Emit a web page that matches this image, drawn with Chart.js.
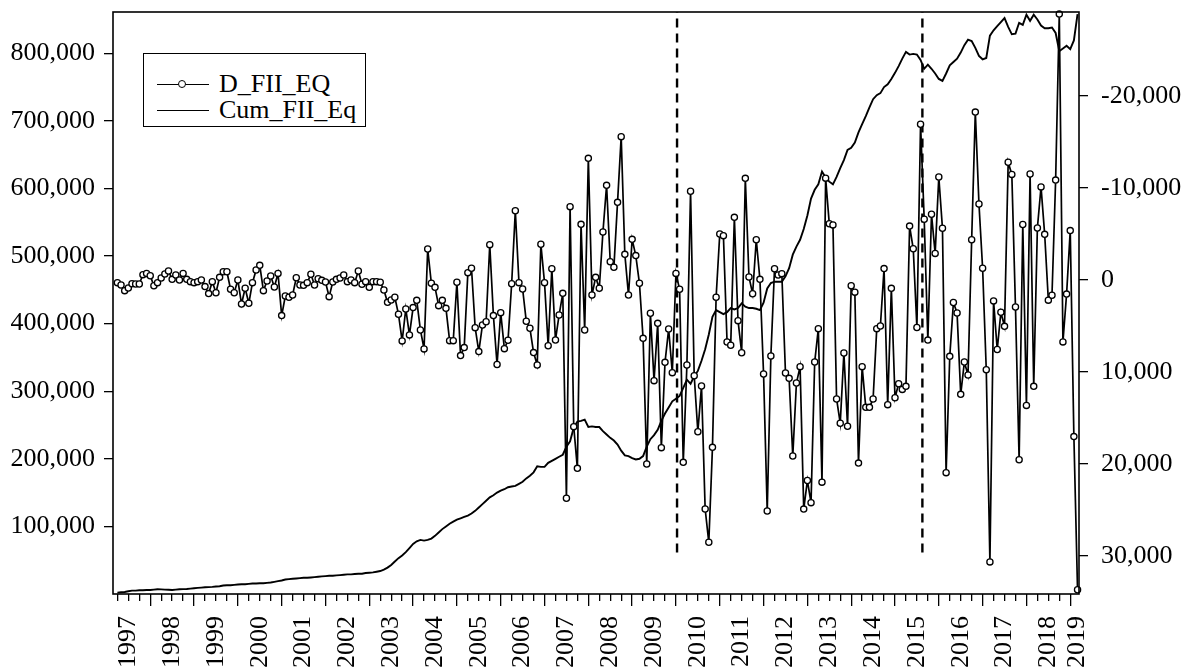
<!DOCTYPE html>
<html>
<head>
<meta charset="utf-8">
<script src="https://cdn.jsdelivr.net/npm/chart.js@4.4.1/dist/chart.umd.min.js"></script>
<style>
  html, body { margin: 0; padding: 0; background: #fff; }
  #wrap { position: relative; width: 1183px; height: 667px; overflow: hidden; }
  #legend {
    position: absolute; left: 143px; top: 53px; width: 221px; height: 72px;
    border: 1.4px solid #000; background: #fff; color: #000;
    font-family: 'Liberation Serif', 'Times New Roman', serif; font-size: 26px;
  }
  .item { position: absolute; left: 0; width: 100%; height: 26px; line-height: 26px; white-space: nowrap; }
  .swatch { position: absolute; left: 13px; top: 13px; width: 52px; border-top: 1.8px solid #000; }
  .dot { position: absolute; left: 21px; top: -5px; width: 6px; height: 6px; border: 1.2px solid #000; border-radius: 50%; background: #fff; }
  .txt { position: absolute; left: 75px; top: 0; }
</style>
</head>
<body>
<div id="wrap">
  <canvas id="c" width="1183" height="667"></canvas>
  <div id="legend"></div>
</div>
<script>
// Monthly series, first observation = April 1997 (index 0), last = March 2019 (index 263)
const startYear = 1997;
const startMonth = 4;

const yearLabels = ['1997','1998','1999','2000','2001','2002','2003','2004','2005','2006','2007','2008',
                    '2009','2010','2011','2012','2013','2014','2015','2016','2017','2018','2019'];

// Monthly change, plotted on the right (inverted) axis
const dFiiEq = [
  290, 540, 1160, 870, 400, 430, 430, -580, -720, -470, 620, 290, -220, -650, -980, -70, -540, 0, -720, -70,
  180, 290, 180, 0, 720, 1480, 180, 1380, -290, -900, -900, 1010, 1380, 0, 2610, 900, 2530, 290, -1090, -1590,
  1160, 110, -430, 760, -720, 3870, 1740, 1880, 1630, -250, 540, 580, 290, -620, 540, -140, 40, 220, 1810, 220,
  -70, -220,
  -540, 180, 0, 290, -980, 470, 180, 800, 180, 180, 250, 1090, 2430, 2170, 1880, 3730, 6620, 3150, 5970, 3000,
  2210, 5430, 7490, -3370, 360, 800, 2790, 2210, 3080, 6590, 6590, 250, 8220, 7350, -800, -1270, 5180, 7780, 4890, 4530,
  -3840, 3870, 9190, 3550, 7460, 6550, 400, -7530, 290, 980, 4490, 5250, 7890,
  9240, -3880, 290, 7140, -1230, 6520, 3800, 1450, 23730, -7970, 15940, 20470, -6050, 5430, -13220, 1630, -290, 900, -5220, -10290,
  -1990, -1380, -8440, -15580, -2790, 1630, -4420, -2650, 360, 6340, 20000, 3620, 10940, 4710, 18220, 8950, 5330, 10070, -720, 1010,
  19820, 9240, -9640, 10400, 16490, 11520, 24890, 28510, 18190, 1880, -5000, -4820, 6740, 7100, -6810, 4420, 7900, -11050, -330, 1490,
  -4380, -70, 10220, 25110, 8260, -1230, -550, -690, 10110, 10690, 19130, 11200, 9420,
  24900, 21800, 24200, 8920, 5290, 21970, -11070, -6110, -5990, 12930, 15570, 7930, 15900, 620, 1320, 19900, 9420, 13840, 13840, 12930,
  5290, 5000, -1240, 13550, 910, 12800, 11270, 11890, 11560, -5860, -3390, 5160, -16930, -6610, 6530, -7140, -2890, -11190,
  -5620, 20940, 8300, 2440, 3590, 12430, 8920, 10330, -4380, -18250, -8260, -1280, 9750, 30640, 2270, 7560, 3510, 5040, -12800, -11480,
  2930, 19530, -6030, 13630, -11520, 11560, -5660, -10120, -4960, 2190, 1650, -10860, -28900, 6730, 1530, -5370, 17020, 33660
];

// Cumulative level, plotted on the left axis
const cumFiiEq = [
  2000, 2500, 3000, 4000, 5000, 5000, 5500, 5500, 6000, 6000,
  6500, 7000, 6800, 6500, 6200, 6000, 6500, 7000, 7200,
  7500, 8000, 8500, 9000, 9500, 10000, 10200, 10500, 11000, 11500, 12500, 13000,
  13000, 13500, 14000, 14500, 14500, 15000, 15500, 15500, 16000, 16000, 16500, 17000,
  18000, 19000, 20000, 21500, 22000, 22500, 23000, 23500, 24000, 24000, 24500, 25000,
  25500, 26000, 26500, 27000, 27000, 27500, 28000, 28500, 29000, 29000, 29500, 30000,
  30000, 31000, 31500, 32000, 33000, 34000, 36000, 39000, 43000, 48000, 53000, 57000,
  62000, 68000, 74000, 78000, 80000, 79000, 80000, 82000, 86000, 91000, 96000, 100000,
  104000, 107000, 110000, 112000, 114000, 116000, 119000, 123000, 128000, 133000, 138000, 143000,
  146000, 150000, 153000, 155000, 158000, 159000, 160000, 163000, 166000, 171000, 175000, 180000,
  189000, 188000, 188000, 194000, 197000, 200000, 203000, 206000, 218000, 226000,
  246000, 255000, 256000, 258000, 247000, 248000, 247000, 247000, 241000, 236000,
  231000, 227000, 221000, 212000, 205000, 204000, 201000, 199000, 200000, 204000,
  218000, 229000, 235000, 243000, 256000, 267000, 276000, 285000, 289000, 293000,
  305000, 317000, 311000, 322000, 330000, 345000, 362000, 384000, 410000, 420000,
  417000, 414000, 417000, 423000, 421000, 423000, 430000, 425000, 423000, 423000,
  422000, 420000, 431000, 452000, 460000, 462000, 462000, 462000, 470000, 482000,
  502000, 514000, 524000,
  540000, 560000, 585000, 598000, 606000, 625000, 616000, 610000, 606000, 617000,
  630000, 642000, 657000, 660000, 668000, 683000, 695000, 707000, 720000, 732000,
  738000, 741000, 750000, 754000, 762000, 771000, 781000, 792000, 802000, 798000,
  799000, 798000, 790000, 777000, 783000, 777000, 770000, 762000,
  759000, 770000, 782000, 787000, 792000, 801000, 812000, 820000, 818000, 808000,
  796000, 791000, 793000, 826000, 834000, 840000, 846000, 852000, 839000, 828000,
  829000, 845000, 842000, 857000, 848000, 857000, 850000, 841000, 837000, 837000,
  838000, 830000, 803000, 807000, 811000, 806000, 819000, 858000
];

// Structural break markers (month index) and the span they cover on the left axis
const breakMonths = [153.3, 220.5];
const breakSpan = [61500, 861000];

const leftTicks = [100000, 200000, 300000, 400000, 500000, 600000, 700000, 800000];
const rightTicks = [-20000, -10000, 0, 10000, 20000, 30000];

const FONT = "'Liberation Serif', 'Times New Roman', serif";
const lastIdx = dFiiEq.length - 1;
const janIdx = y => (y - startYear) * 12 - (startMonth - 1);

const years = yearLabels.map(Number);
const labelPos = years.map(y => Math.min(Math.max(janIdx(y) + 6, 0), lastIdx));
const majorPos = years.map(janIdx).filter(v => v >= 0 && v <= lastIdx);
const minorPos = [];
years.forEach(y => [3, 6, 9].forEach(m => {
  const v = janIdx(y) + m;
  if (v >= 0 && v <= lastIdx) minorPos.push(v);
}));

const X_MIN = -1.2, X_MAX = 263.4;
const fmt = v => Number(v).toLocaleString('en-US');
const noPad = s => { s.paddingTop = 0; s.paddingBottom = 0; s.paddingLeft = 0; s.paddingRight = 0; };

const tickOnlyAxis = (positions, len, weight) => ({
  type: 'linear', position: 'bottom', min: X_MIN, max: X_MAX, weight,
  afterBuildTicks: s => { s.ticks = positions.map(v => ({ value: v })); },
  ticks: { display: false },
  grid: { display: true, drawOnChartArea: false, drawTicks: true, tickLength: len, color: '#000', lineWidth: 1.3 },
  border: { display: false },
  afterFit: s => { s.height = 0; noPad(s); }
});

const frame = {
  id: 'frame',
  afterDatasetsDraw(chart) {
    const { ctx, chartArea: a } = chart;
    ctx.save();
    ctx.strokeStyle = '#000';
    ctx.lineWidth = 1.6;
    ctx.strokeRect(a.left, a.top, a.right - a.left, a.bottom - a.top);
    ctx.restore();
  }
};

const datasets = [
  {
    label: 'D_FII_EQ',
    data: dFiiEq.map((v, i) => ({ x: i, y: v })),
    xAxisID: 'x', yAxisID: 'y2',
    borderColor: '#000', borderWidth: 1.7, tension: 0,
    pointRadius: 3.1, pointBackgroundColor: '#fff', pointBorderColor: '#000', pointBorderWidth: 1.3,
    order: 0, clip: 5
  },
  {
    label: 'Cum_FII_Eq',
    data: cumFiiEq.map((v, i) => ({ x: i, y: v })),
    xAxisID: 'x', yAxisID: 'y',
    borderColor: '#000', borderWidth: 1.9, tension: 0, pointRadius: 0,
    order: 1
  }
];
breakMonths.forEach(b => datasets.push({
  label: '',
  data: breakSpan.map(v => ({ x: b, y: v })),
  xAxisID: 'x', yAxisID: 'y',
  borderColor: '#000', borderWidth: 2.4, borderDash: [9, 6], pointRadius: 0,
  order: 2
}));

const chart = new Chart(document.getElementById('c'), {
  type: 'line',
  data: { datasets },
  options: {
    responsive: false,
    animation: false,
    events: [],
    layout: { padding: { top: 12, left: 0, right: 0, bottom: 0 } },
    plugins: { legend: { display: false }, tooltip: { enabled: false } },
    scales: {
      xMaj: tickOnlyAxis(majorPos, 12, 0),
      xMin: tickOnlyAxis(minorPos, 7, 1),
      x: {
        type: 'linear', position: 'bottom', min: X_MIN, max: X_MAX, weight: 2,
        afterBuildTicks: s => { s.ticks = labelPos.map(v => ({ value: v })); },
        ticks: {
          autoSkip: false, minRotation: 90, maxRotation: 90, padding: 14,
          color: '#000', font: { family: FONT, size: 26 },
          callback: (v, i) => yearLabels[i]
        },
        grid: { display: false },
        border: { display: false },
        afterFit: s => { s.height = 73; noPad(s); }
      },
      y: {
        type: 'linear', position: 'left', min: 0, max: 861000,
        afterBuildTicks: s => { s.ticks = leftTicks.map(v => ({ value: v })); },
        ticks: { padding: 9, color: '#000', font: { family: FONT, size: 26 }, callback: fmt },
        grid: { display: true, drawOnChartArea: false, drawTicks: true, tickLength: 9, color: '#000', lineWidth: 1.3 },
        border: { display: false },
        afterFit: s => { s.width = 113; noPad(s); }
      },
      y2: {
        type: 'linear', position: 'right', reverse: true, min: -29130, max: 34130,
        afterBuildTicks: s => { s.ticks = rightTicks.map(v => ({ value: v })); },
        ticks: { padding: 13, color: '#000', font: { family: FONT, size: 26 }, callback: fmt },
        grid: { display: true, drawOnChartArea: false, drawTicks: true, tickLength: 9, color: '#000', lineWidth: 1.3 },
        border: { display: false },
        afterFit: s => { s.width = 104; noPad(s); }
      }
    }
  },
  plugins: [frame]
});

// Legend built from the labelled series
const legendEl = document.getElementById('legend');
chart.data.datasets.filter(d => d.label).forEach((d, k) => {
  const item = legendEl.appendChild(document.createElement('div'));
  item.className = 'item';
  item.style.top = (17 + k * 26) + 'px';
  const sw = item.appendChild(document.createElement('span'));
  sw.className = 'swatch';
  if (d.pointRadius > 0) {
    const dot = sw.appendChild(document.createElement('span'));
    dot.className = 'dot';
  }
  const t = item.appendChild(document.createElement('span'));
  t.className = 'txt';
  t.textContent = d.label;
});
</script>
</body>
</html>
